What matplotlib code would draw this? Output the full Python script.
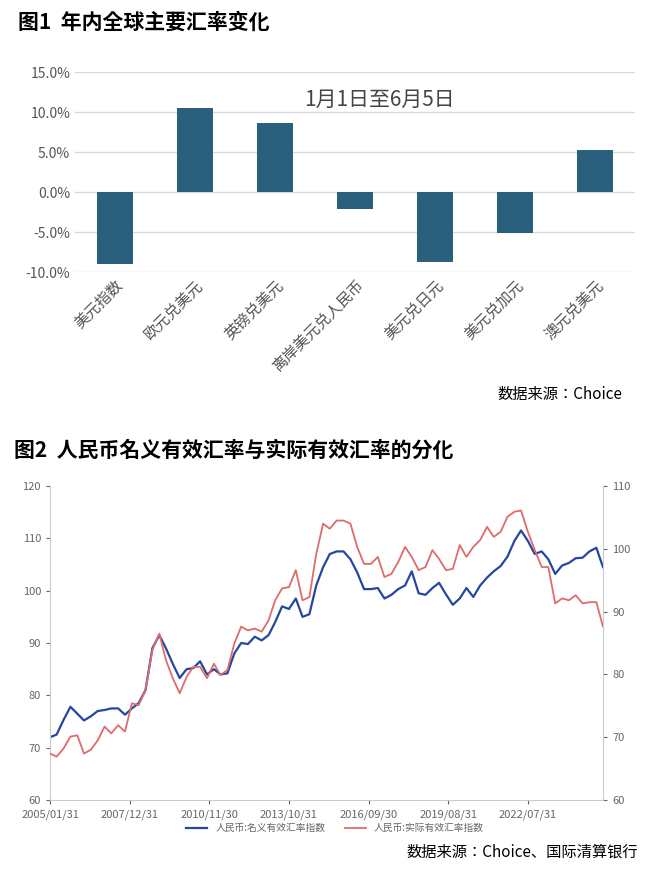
import matplotlib.pyplot as plt
import pandas as pd

plt.rcParams["font.family"] = ["Noto Sans CJK SC", "Noto Sans CJK JP", "Noto Sans CJK TC", "DejaVu Sans"]
plt.rcParams["axes.unicode_minus"] = False

# Figure 1 data
currencies = ["美元指数", "欧元兑美元", "英镑兑美元", "离岸美元兑人民币", "美元兑日元", "美元兑加元", "澳元兑美元"]
changes = [-9.0, 10.5, 8.6, -2.1, -8.8, -5.1, 5.2]

# Figure 2 data (quarterly)
neer = [72, 72.5, 75.3, 77.8, 76.5, 75.2, 76, 77, 77.2, 77.5, 77.5, 76.3, 77.5, 78.5, 81, 89,
        91.5, 89, 86, 83.3, 85, 85.2, 86.5, 84, 85, 84, 84.2, 88, 90, 89.8, 91.2, 90.5,
        91.5, 94, 97, 96.5, 98.5, 95, 95.5, 101, 104.5, 107, 107.5, 107.5, 106, 103.5, 100.3, 100.3,
        100.5, 98.5, 99.2, 100.3, 101, 103.7, 99.5, 99.2, 100.5, 101.5, 99.3, 97.3, 98.5, 100.5, 98.8,
        101, 102.5, 103.7, 104.7, 106.5, 109.5, 111.5, 109.5, 107, 107.5, 106, 103.2, 104.8, 105.3,
        106.2, 106.3, 107.5, 108.2, 104.5]
reer = [67.4, 66.9, 68.2, 70.1, 70.3, 67.4, 68, 69.5, 71.7, 70.6, 71.9, 70.9, 75.4, 75.1, 77.5, 83.9,
        86.5, 82.3, 79.4, 77, 79.6, 81.2, 81.2, 79.4, 81.7, 79.9, 80.7, 84.9, 87.6, 87, 87.3, 86.8,
        88.6, 91.8, 93.7, 93.9, 96.6, 91.8, 92.3, 99.2, 104, 103.2, 104.5, 104.5, 104, 100.3, 97.6, 97.6,
        98.7, 95.5, 96, 97.9, 100.3, 98.7, 96.6, 97.1, 99.8, 98.4, 96.6, 96.8, 100.6, 98.7, 100.3,
        101.4, 103.5, 101.9, 102.7, 105.1, 105.9, 106.1, 102.7, 99.8, 97.1, 97.1, 91.3, 92.1, 91.8,
        92.6, 91.3, 91.5, 91.5, 87.6]
dates = pd.date_range("2005-01-31", periods=len(neer), freq="3ME")
date_ticks = ["2005/01/31", "2007/12/31", "2010/11/30", "2013/10/31", "2016/09/30", "2019/08/31", "2022/07/31"]

W, H = 660, 873
fig = plt.figure(figsize=(W / 100, H / 100), dpi=100)


def box(l, t, r, b):
    return [l / W, 1 - b / H, (r - l) / W, (b - t) / H]


fig.text(18 / W, 1 - 22 / H, "图1  年内全球主要汇率变化", fontsize=15, fontweight="bold", va="center")
ax1 = fig.add_axes(box(75, 72, 635, 272))
ax1.bar(range(len(currencies)), changes, width=0.45, color="#2a5f7e", zorder=3)
ax1.set_ylim(-10, 15)
ax1.set_xlim(-0.5, len(currencies) - 0.5)
ax1.set_yticks(range(-10, 16, 5))
ax1.set_yticklabels([f"{v:.1f}%" for v in range(-10, 16, 5)], fontsize=10, color="#555555")
ax1.set_xticks(range(len(currencies)))
ax1.set_xticklabels(currencies, rotation=45, ha="right", rotation_mode="anchor", fontsize=11, color="#555555")
ax1.grid(axis="y", color="#d9d9d9", lw=1, zorder=0)
for s in ax1.spines.values():
    s.set_visible(False)
ax1.tick_params(length=0)
ax1.text(3.3, 11.5, "1月1日至6月5日", fontsize=15, color="#444444", ha="center", va="center")
fig.text(622 / W, 1 - 395 / H, "数据来源：Choice", fontsize=11, ha="right", va="center")

fig.text(14 / W, 1 - 450 / H, "图2  人民币名义有效汇率与实际有效汇率的分化", fontsize=15, fontweight="bold", va="center")
ax2 = fig.add_axes(box(50, 486, 603, 800))
l1, = ax2.plot(dates, neer, color="#2646a0", lw=1.6)
ax2.set_ylim(60, 120)
ax2.set_xlim(dates[0], dates[-1])
ax3 = ax2.twinx()
l2, = ax3.plot(dates, reer, color="#e06b6b", lw=1.3)
ax3.set_ylim(60, 110)
ax2.set_xticks(pd.to_datetime(date_ticks))
ax2.set_xticklabels(date_ticks)
for a in (ax2, ax3):
    for s in a.spines.values():
        s.set_visible(False)
    a.tick_params(labelsize=8, colors="#666666", length=3)
ax2.spines["left"].set_visible(True)
ax2.spines["bottom"].set_visible(True)
ax3.spines["right"].set_visible(True)
for s in ("left", "bottom"):
    ax2.spines[s].set_color("#cccccc")
ax3.spines["right"].set_color("#cccccc")
fig.legend([l1, l2], ["人民币:名义有效汇率指数", "人民币:实际有效汇率指数"], loc="center",
           bbox_to_anchor=(335 / W, 1 - 828 / H), ncol=2, frameon=False, fontsize=7,
           labelcolor="#666666", handlelength=2.2)
fig.text(638 / W, 1 - 852 / H, "数据来源：Choice、国际清算银行", fontsize=11, ha="right", va="center")

fig.savefig("out.png", dpi=100)
